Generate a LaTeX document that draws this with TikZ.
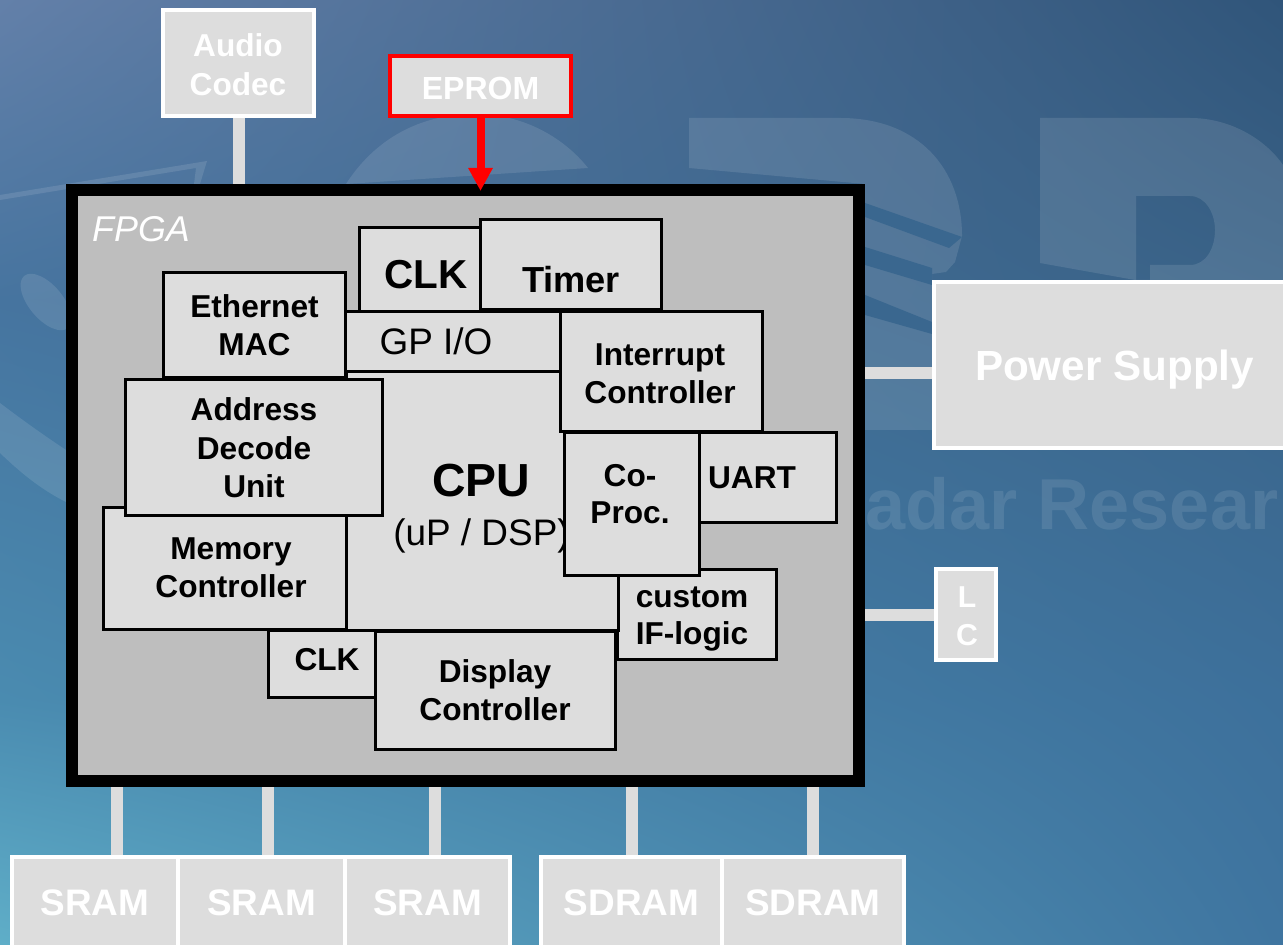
\documentclass[tikz,border=0pt]{standalone}
\usepackage{xcolor}
\usepackage{fontspec}
\setmainfont{Liberation Sans}
\usepackage{tikz}
\usetikzlibrary{arrows.meta, shadings}
\definecolor{boxfill}{HTML}{DDDDDD}
\definecolor{fpgafill}{HTML}{BEBEBE}
\definecolor{stripeblue}{HTML}{3A678F}
\definecolor{topleftblue}{HTML}{6380A9}
\definecolor{toprightblue}{HTML}{30557A}
\definecolor{upleftblue}{HTML}{46749F}
\definecolor{uprightblue}{HTML}{3A6388}
\definecolor{lowleftblue}{HTML}{4A8BB0}
\definecolor{lowrightblue}{HTML}{3D709B}
\definecolor{botleftblue}{HTML}{5FAEC8}
\definecolor{botrightblue}{HTML}{3F75A0}

\begin{document}
\begin{tikzpicture}[
  extbox/.style={rectangle, draw=white, fill=boxfill, line width=0.04cm,
                 inner sep=0pt, align=center, text=white,
                 font=\fontsize{10.5}{11}\selectfont\bfseries},
  ipblock/.style={rectangle, draw=black, fill=boxfill, line width=0.03cm,
                 inner sep=0pt, align=center, text=black,
                 font=\fontsize{9}{10.7}\selectfont\bfseries},
  lbl/.style={inner sep=0pt, align=center, text=black,
              font=\fontsize{9}{10.7}\selectfont\bfseries},
  link/.style={draw=boxfill, line width=0.12cm},
  wmark/.style={fill=white, fill opacity=0.11},
  wmstripe/.style={fill=stripeblue},
]
\useasboundingbox (0,0) rectangle (12.83,9.44);

%% ── Backdrop ─────────────────────────────────────────────────────────────────
\shade[upper left=topleftblue, upper right=toprightblue,
       lower left=upleftblue, lower right=uprightblue] (0,6.43) rectangle (12.83,9.44);
\shade[upper left=upleftblue, upper right=uprightblue,
       lower left=lowleftblue, lower right=lowrightblue] (0,2.44) rectangle (12.83,6.44);
\shade[upper left=lowleftblue, upper right=lowrightblue,
       lower left=botleftblue, lower right=botrightblue] (0,0) rectangle (12.83,2.45);

%  Faint logo behind the diagram.
\fill[wmark] (0,7.49) -- (2.07,7.83) -- (2.00,7.60) -- (1.94,7.60) -- (1.96,7.76) -- (0,7.44) -- cycle;
\fill[wmark, rotate around={-50:(0.46,6.42)}] (0.46,6.42) ellipse (0.34 and 0.17);
\fill[wmark] (0,5.41) .. controls (0.25,5.22) and (0.45,5.08) .. (0.66,4.94)
    -- (0.66,4.42) .. controls (0.40,4.55) and (0.20,4.72) .. (0,4.91) -- cycle;
\fill[wmark] (3.46,7.60) .. controls (3.75,8.05) and (4.20,8.30) .. (4.75,8.30)
    .. controls (5.25,8.30) and (5.65,8.05) .. (5.88,7.76) -- cycle;
\fill[wmark] (6.89,8.26) -- (8.40,8.26) .. controls (9.20,8.26) and (9.62,7.74) .. (9.62,7.08)
    -- (9.55,6.82) -- (9.46,6.72) -- (9.32,6.70) -- (9.32,5.14) -- (8.65,5.14)
    -- (8.65,7.60) -- (6.89,7.76) -- cycle;
\fill[wmstripe] (8.65,7.41) -- (9.62,7.07) -- (9.49,6.96) -- (8.65,7.27) -- cycle;
\fill[wmstripe] (8.65,6.97) -- (9.32,6.76) -- (9.32,6.59) -- (8.65,6.79) -- cycle;
\fill[wmstripe] (8.65,6.49) -- (9.32,6.22) -- (9.32,6.10) -- (8.65,6.29) -- cycle;
\fill[wmark, even odd rule] (10.40,8.26) -- (11.90,8.26) .. controls (12.30,8.26) and (12.65,8.05) .. (12.83,7.79)
    -- (12.83,6.64) -- (11.35,6.64) -- (10.40,6.81) -- cycle
    (11.36,7.48) -- (11.90,7.48) .. controls (12.06,7.48) and (12.15,7.30) .. (12.15,7.14)
    .. controls (12.15,6.96) and (12.06,6.79) .. (11.90,6.79) -- (11.50,6.79) -- (11.50,6.64) -- (11.36,6.64) -- cycle;
\node[text=white, text opacity=0.10, inner sep=0pt, anchor=west,
      font=\fontsize{20.5}{22}\selectfont\bfseries] (Watermark) at (8.65,4.40) {adar Resear};

%% ── FPGA frame ───────────────────────────────────────────────────────────────
\node[rectangle, draw=black, fill=fpgafill, line width=0.12cm, inner sep=0pt,
      minimum width=7.87cm, minimum height=5.91cm] (FPGA) at (4.655,4.585) {};
\node[text=white, inner sep=0pt, font=\fontsize{10.2}{11}\selectfont\itshape] (FPGAtxt) at (1.41,7.15) {FPGA};

%% ── Blocks inside the FPGA, back to front ────────────────────────────────────
\node[ipblock, minimum width=1.21cm, minimum height=0.84cm] (CLKtop) at (4.20,6.74) {};
\node[lbl, font=\fontsize{11.5}{12}\selectfont\bfseries] (CLKtoptxt) at (4.26,6.69) {CLK};
\node[ipblock, minimum width=1.81cm, minimum height=0.90cm] (Timer) at (5.71,6.79) {};
\node[lbl, font=\fontsize{10.3}{11}\selectfont\bfseries] (Timertxt) at (5.71,6.64) {Timer};
\node[ipblock, minimum width=2.16cm, minimum height=0.60cm] (GPIO) at (4.53,6.02) {};
\node[lbl, font=\fontsize{10.5}{11}\selectfont] (GPIOtxt) at (4.36,6.03) {GP I/O};
\node[ipblock, minimum width=1.59cm, minimum height=0.90cm] (Custom) at (6.965,3.30) {};
\node[lbl] (Customtxt) at (6.92,3.25) {custom\\IF-logic};
\node[ipblock, minimum width=1.46cm, minimum height=0.90cm] (UART) at (7.63,4.66) {};
\node[lbl] (UARTtxt) at (7.52,4.66) {UART};
\node[ipblock, minimum width=2.72cm, minimum height=2.58cm] (CPU) at (4.82,4.43) {};
\node[lbl, font=\fontsize{13.2}{14}\selectfont\bfseries] (CPUtxt) at (4.81,4.63) {CPU};
\node[lbl, font=\fontsize{10.5}{11}\selectfont] (CPUsub) at (4.815,4.08) {(uP / DSP)};
\node[ipblock, minimum width=2.43cm, minimum height=1.22cm] (Memory) at (2.245,3.76) {};
\node[lbl] (Memorytxt) at (2.31,3.76) {Memory\\Controller};
\node[ipblock, minimum width=1.82cm, minimum height=1.05cm] (Ethernet) at (2.545,6.185) {Ethernet\\MAC};
\node[ipblock, minimum width=2.57cm, minimum height=1.36cm,
      font=\fontsize{9}{11}\selectfont\bfseries] (Address) at (2.54,4.96) {Address\\Decode\\Unit};
\node[ipblock, minimum width=2.02cm, minimum height=1.20cm] (Interrupt) at (6.61,5.72) {};
\node[lbl] (Interrupttxt) at (6.60,5.70) {Interrupt\\Controller};
\node[ipblock, minimum width=1.35cm, minimum height=1.42cm] (CoProc) at (6.315,4.40) {};
\node[lbl] (CoProctxt) at (6.30,4.50) {Co-\\Proc.};
\node[ipblock, minimum width=1.07cm, minimum height=0.67cm] (CLKlow) at (3.215,2.805) {};
\node[lbl] (CLKlowtxt) at (3.27,2.84) {CLK};
\node[ipblock, minimum width=2.40cm, minimum height=1.18cm] (Display) at (4.95,2.54) {Display\\Controller};

%% ── Parts around the FPGA ────────────────────────────────────────────────────
\node[extbox, minimum width=1.51cm, minimum height=1.06cm] (Audio) at (2.385,8.81) {};
\node[lbl, text=white, font=\fontsize{9}{11}\selectfont\bfseries] (Audiotxt) at (2.38,8.79) {Audio\\Codec};
\node[extbox, draw=red, minimum width=1.81cm, minimum height=0.60cm, text height=7.9pt,
      font=\fontsize{9.1}{11}\selectfont\bfseries] (EPROM) at (4.805,8.58) {EPROM};
\node[extbox, minimum width=3.61cm, minimum height=1.66cm, text depth=0pt,
      font=\fontsize{12}{13}\selectfont\bfseries] (Power) at (11.145,5.79) {Power Supply};
\node[extbox, minimum width=0.60cm, minimum height=0.91cm] (LC) at (9.66,3.295) {};
\node[lbl, text=white, font=\fontsize{8.6}{10.8}\selectfont\bfseries] (LCtxt) at (9.67,3.28) {L\\C};
\node[extbox, minimum width=1.665cm, minimum height=0.92cm] (SRAMa) at (0.948,0.41) {SRAM};
\node[extbox, minimum width=1.67cm, minimum height=0.92cm] (SRAMb) at (2.615,0.41) {SRAM};
\node[extbox, minimum width=1.65cm, minimum height=0.92cm] (SRAMc) at (4.275,0.41) {SRAM};
\node[extbox, minimum width=1.81cm, minimum height=0.92cm] (SDRAMa) at (6.315,0.41) {SDRAM};
\node[extbox, minimum width=1.82cm, minimum height=0.92cm] (SDRAMb) at (8.13,0.41) {SDRAM};

%% ── Connectors ───────────────────────────────────────────────────────────────
\draw[link] (Audio.south) -- (Audio.south |- FPGA.north);
\draw[link] ([yshift=-0.08cm]Power.west) -- ([yshift=-0.08cm]Power.west -| FPGA.east);
\draw[link] (LC.west) -- (LC.west -| FPGA.east);
\foreach \part/\dx in {SRAMa/0.22, SRAMb/0.065, SRAMc/0.075, SDRAMa/0, SDRAMb/0}
  \draw[link] ([xshift=\dx cm]\part.north) -- ([xshift=\dx cm]\part.north |- FPGA.south);

\coordinate (EPROMin) at ([yshift=-0.07cm]EPROM.south |- FPGA.north);
\draw[red, line width=0.08cm, -{Triangle[length=0.23cm, width=0.23cm]}] (EPROM.south) -- (EPROMin);

\end{tikzpicture}
\end{document}
